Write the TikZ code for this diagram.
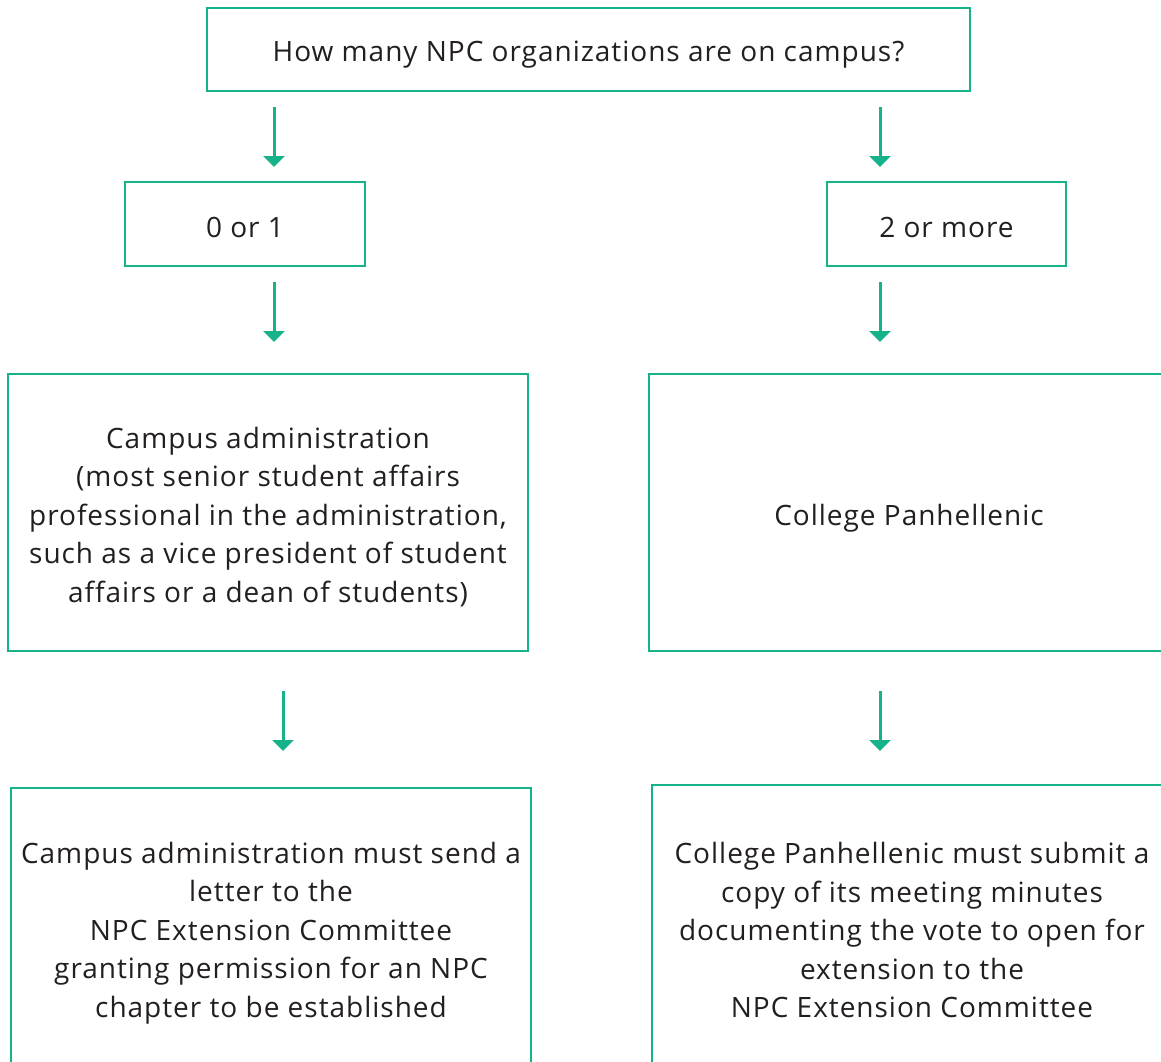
\documentclass[tikz,border=0pt]{standalone}
\usepackage{fontspec}
\setmainfont[Ligatures=NoCommon,LetterSpace=3.5]{Open Sans}
\usetikzlibrary{arrows.meta}
\definecolor{npcgreen}{RGB}{22,178,137}
\definecolor{txt}{RGB}{35,31,32}
\begin{document}
\begin{tikzpicture}[x=1pt,y=-1pt,
  box/.style={draw=npcgreen,line width=2.6pt,inner sep=0pt},
  lbl/.style={inner sep=0pt,align=center,text=txt,font=\fontsize{28}{38.5}\selectfont},
  arr/.style={draw=npcgreen,line width=3pt,-{Triangle[width=21pt,length=11pt]}}]
\useasboundingbox[fill=white] (0,0) rectangle (1161,1061);
\node[box,minimum width=763pt,minimum height=83pt] (q) at (588.5,49.5) {};
\node[box,minimum width=240pt,minimum height=84pt] (a) at (245,224) {};
\node[box,minimum width=239pt,minimum height=84pt] (b) at (946.5,224) {};
\node[box,minimum width=520pt,minimum height=277pt] (c) at (268,512.5) {};
\node[box,minimum width=520pt,minimum height=277pt] (d) at (909,512.5) {};
\node[box,minimum width=520pt,minimum height=284pt] (e) at (271,930) {};
\node[box,minimum width=520pt,minimum height=284pt] (f) at (912,927) {};
\node[lbl] (qt) at ([yshift=-5.5pt]q.center) {How many NPC organizations are on campus?};
\node[lbl] (at) at ([yshift=-3pt]a.center) {0 or 1};
\node[lbl] (bt) at ([yshift=-3pt]b.center) {2 or more};
\node[lbl] (ct) at ([yshift=-4.5pt]c.center) {Campus administration\\(most senior student affairs\\professional in the administration,\\such as a vice president of student\\affairs or a dean of students)};
\node[lbl] (dt) at ([yshift=-6pt]d.center) {College Panhellenic};
\node[lbl] (et) at ([yshift=-3pt]e.center) {Campus administration must send a\\letter to the\\NPC Extension Committee\\granting permission for an NPC\\chapter to be established};
\node[lbl] (ft) at ([yshift=-3pt]f.center) {College Panhellenic must submit a\\copy of its meeting minutes\\documenting the vote to open for\\extension to the\\NPC Extension Committee};
\coordinate (a1s) at (274,107); \coordinate (a1e) at (274,167);
\coordinate (a2s) at (880,107); \coordinate (a2e) at (880,167);
\coordinate (a3s) at (274,282); \coordinate (a3e) at (274,342);
\coordinate (a4s) at (880,282); \coordinate (a4e) at (880,342);
\coordinate (a5s) at (283,691); \coordinate (a5e) at (283,751);
\coordinate (a6s) at (880,691); \coordinate (a6e) at (880,751);
\draw[arr] (a1s) -- (a1e);
\draw[arr] (a2s) -- (a2e);
\draw[arr] (a3s) -- (a3e);
\draw[arr] (a4s) -- (a4e);
\draw[arr] (a5s) -- (a5e);
\draw[arr] (a6s) -- (a6e);
\end{tikzpicture}
\end{document}
